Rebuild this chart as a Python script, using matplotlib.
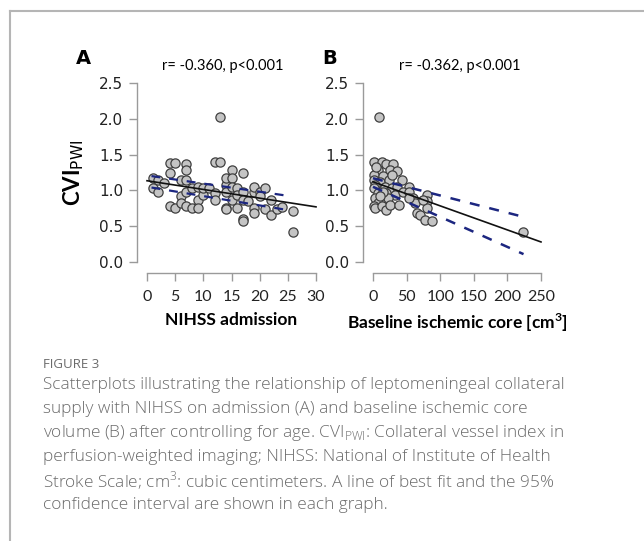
import matplotlib.pyplot as plt
from matplotlib.lines import Line2D

# panel A: NIHSS on admission vs CVI_PWI
nihss = [1, 1, 2, 2, 3, 4, 4, 5, 4, 5, 6, 6, 6, 7, 7, 7, 7, 7, 8, 8,
         9, 9, 9, 10, 10, 11, 12, 13, 12, 12, 13, 14, 14, 14, 14, 15, 15, 15, 15, 14,
         16, 16, 16, 17, 17, 17, 17, 17, 18, 19, 19, 19, 19, 20, 21, 21, 22, 22, 23, 24,
         26, 26, 20]
cvi_a = [1.17, 1.03, 1.14, 0.98, 1.10, 1.24, 1.38, 1.38, 0.78, 0.76, 1.14, 0.92, 0.82, 1.37, 1.29, 1.14, 0.98, 0.78, 0.76, 1.03,
         0.87, 0.76, 1.05, 0.94, 1.03, 1.03, 1.39, 1.39, 0.97, 0.87, 2.02, 1.08, 0.98, 0.76, 1.17, 1.29, 1.17, 1.05, 0.87, 0.74,
         1.03, 0.94, 0.76, 1.24, 0.60, 0.57, 0.98, 0.87, 0.85, 0.98, 1.05, 0.76, 0.68, 0.98, 1.03, 0.74, 0.65, 0.87, 0.74, 0.77,
         0.71, 0.42, 0.92]

# panel B: baseline ischemic core volume vs CVI_PWI
core = [9, 2, 13, 20, 30, 8, 25, 36, 2, 15, 1, 10, 24, 43, 3, 1, 18, 28, 35, 54,
        8, 20, 33, 45, 54, 3, 13, 23, 8, 1, 3, 13, 20, 25, 39, 60, 62, 65, 70, 77,
        80, 80, 80, 88, 75, 223, 5, 28, 15, 53, 10]
cvi_b = [2.02, 1.40, 1.40, 1.37, 1.37, 1.29, 1.29, 1.27, 1.22, 1.20, 1.14, 1.12, 1.14, 1.14, 1.08, 1.03, 1.05, 1.03, 1.05, 1.05,
         0.96, 0.96, 0.94, 0.98, 0.98, 0.89, 0.87, 0.89, 0.82, 0.78, 0.75, 0.78, 0.73, 0.80, 0.80, 0.89, 0.82, 0.68, 0.65, 0.58,
         0.93, 0.85, 0.75, 0.57, 0.87, 0.42, 1.33, 1.22, 0.98, 0.89, 0.92]

# fitted line and 95% CI
fit_a_x, fit_a_y = [0, 30], [1.135, 0.77]
ci_a_x = [0.8, 25.4]
ci_a_hi, ci_a_lo = [1.20, 0.92], [1.04, 0.72]

fit_b_x, fit_b_y = [0, 250], [1.12, 0.28]
ci_b_x = [0, 224]
ci_b_hi, ci_b_lo = [1.17, 0.63], [1.05, 0.11]

r_a = 'r= -0.360, p<0.001'
r_b = 'r= -0.362, p<0.001'
yticks = [0.0, 0.5, 1.0, 1.5, 2.0, 2.5]
xticks_a = [0, 5, 10, 15, 20, 25, 30]
xticks_b = [0, 50, 100, 150, 200, 250]

caption = [
    'Scatterplots illustrating the relationship of leptomeningeal collateral',
    'supply with NIHSS on admission (A) and baseline ischemic core',
    r'volume (B) after controlling for age. CVI$_{\mathregular{PWI}}$: Collateral vessel index in',
    'perfusion-weighted imaging; NIHSS: National of Institute of Health',
    'Stroke Scale; cm$^{\\mathregular{3}}$: cubic centimeters. A line of best fit and the 95%',
    'confidence interval are shown in each graph.',
]

W, H = 644, 541
fig = plt.figure(figsize=(W / 100, H / 100), dpi=100)
plt.rcParams['mathtext.fontset'] = 'custom'
plt.rcParams['mathtext.rm'] = 'Lato'
plt.rcParams['mathtext.bf'] = 'Lato:bold'


def px_axes(left, right, top, bottom):
    return fig.add_axes([left / W, 1 - bottom / H, (right - left) / W, (bottom - top) / H])


axis_grey = '#9a9a9a'


def style(ax, xticks, x0px, x1px, left, right, xmax):
    ppu = (x1px - x0px) / xmax
    ax.set_xlim(-(x0px - left) / ppu, xmax + (right - x1px) / ppu)
    ax.set_ylim(-11 / 71.6, 2.5 + 11 / 71.6)
    for s in ['top', 'right']:
        ax.spines[s].set_visible(False)
    ax.spines['left'].set_bounds(0, 2.5)
    ax.spines['bottom'].set_bounds(0, xmax)
    for s in ['left', 'bottom']:
        ax.spines[s].set_color(axis_grey)
        ax.spines[s].set_linewidth(1.0)
    ax.set_yticks(yticks)
    ax.set_yticklabels(['%.1f' % v for v in yticks], family='DejaVu Sans', fontsize=11, color='#222222')
    ax.set_xticks(xticks)
    ax.set_xticklabels([str(v) for v in xticks], family='Lato', fontsize=11.5, color='#222222')
    ax.tick_params(axis='both', color=axis_grey, length=6, width=1.0)
    ax.tick_params(axis='y', pad=4)
    ax.tick_params(axis='x', pad=6)
    ax.patch.set_visible(False)


def draw(ax, x, y, fx, fy, cx, chi, clo, lw_ci, dashes):
    ax.scatter(x, y, s=44, facecolor='#c4c4c4', edgecolor='#3f3f3f', linewidth=0.9, zorder=3)
    ax.plot(fx, fy, color='#111111', lw=1.2, zorder=4)
    ax.plot(cx, chi, color='#1c2680', lw=lw_ci, dashes=dashes, zorder=5)
    ax.plot(cx, clo, color='#1c2680', lw=lw_ci, dashes=dashes, zorder=5)


axA = px_axes(137, 326, 72, 273)
style(axA, xticks_a, 147, 316, 137, 326, 30)
draw(axA, nihss, cvi_a, fit_a_x, fit_a_y, ci_a_x, ci_a_hi, ci_a_lo, 1.6, (4, 4))
axA.set_xlabel('NIHSS admission', family='Lato', fontweight='bold', fontsize=12.5, labelpad=6)
axA.set_ylabel(r'$\mathbf{CVI}_{\mathregular{PWI}}$', fontsize=16, labelpad=9)

axB = px_axes(363, 551, 72, 273)
style(axB, xticks_b, 373, 541, 363, 551, 250)
draw(axB, core, cvi_b, fit_b_x, fit_b_y, ci_b_x, ci_b_hi, ci_b_lo, 1.8, (4, 4))
axB.set_xlabel(r'Baseline ischemic core [cm$^{\mathbf{3}}$]', family='Lato', fontweight='bold', fontsize=12.5, labelpad=6)

# panel letters and correlation notes
fig.text(83 / W, 1 - 59 / H, 'A', family='DejaVu Sans', fontweight='bold', fontsize=14, ha='center', va='center')
fig.text(330 / W, 1 - 59 / H, 'B', family='DejaVu Sans', fontweight='bold', fontsize=14, ha='center', va='center')
fig.text(223 / W, 1 - 66 / H, r_a, family='Lato', fontsize=10.5, ha='center', va='center')
fig.text(460 / W, 1 - 66 / H, r_b, family='Lato', fontsize=10.5, ha='center', va='center')

# caption
cap_col = '#6b6b6b'
fig.text(43 / W, 1 - 365 / H, 'FIGURE 3', family='Open Sans', fontsize=9.5, color=cap_col, va='center')
for i, line in enumerate(caption):
    fig.text(43 / W, 1 - (385 + 24 * i) / H, line, family='Open Sans', fontweight='light',
             fontsize=12.4, color=cap_col, va='center')

# frame around the figure block
fig.add_artist(Line2D([9.5 / W, 9.5 / W], [0, 1 - 11 / H], color='#b5b5b5', lw=1.5))
fig.add_artist(Line2D([9.5 / W, 1], [1 - 11 / H, 1 - 11 / H], color='#b5b5b5', lw=1.5))

fig.savefig('out.png', dpi=100)
